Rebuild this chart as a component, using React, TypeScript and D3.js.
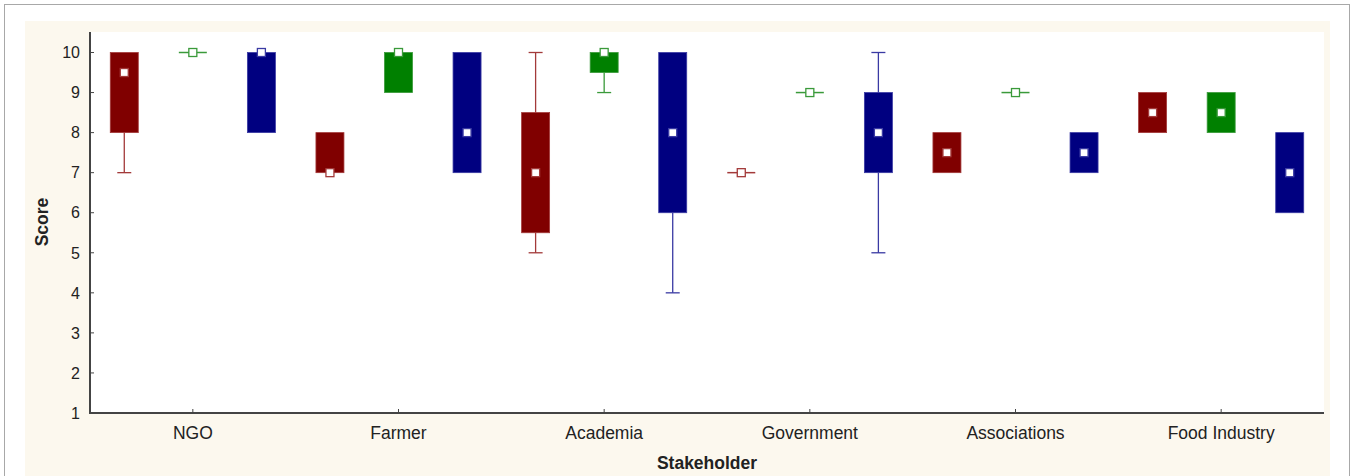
import * as d3 from "d3";

const categories = ["NGO", "Farmer", "Academia", "Government", "Associations", "Food Industry"];
const yTicks = [1, 2, 3, 4, 5, 6, 7, 8, 9, 10];

const redMedian = [9.5, 7, 7, 7, 7.5, 8.5];
const redQ1 = [8, 7, 5.5, 7, 7, 8];
const redQ3 = [10, 8, 8.5, 7, 8, 9];
const redMin = [7, 7, 5, 7, 7, 8];
const redMax = [10, 8, 10, 7, 8, 9];

const greenMedian = [10, 10, 10, 9, 9, 8.5];
const greenQ1 = [10, 9, 9.5, 9, 9, 8];
const greenQ3 = [10, 10, 10, 9, 9, 9];
const greenMin = [10, 9, 9, 9, 9, 8];
const greenMax = [10, 10, 10, 9, 9, 9];

const blueMedian = [10, 8, 8, 8, 7.5, 7];
const blueQ1 = [8, 7, 6, 7, 7, 6];
const blueQ3 = [10, 10, 10, 9, 8, 8];
const blueMin = [8, 7, 4, 5, 7, 6];
const blueMax = [10, 10, 10, 10, 8, 8];

const seriesList = [
  { key: "red", fill: "#800000", line: "#a33a3a", median: redMedian, q1: redQ1, q3: redQ3, min: redMin, max: redMax },
  { key: "green", fill: "#008000", line: "#3a9a3a", median: greenMedian, q1: greenQ1, q3: greenQ3, min: greenMin, max: greenMax },
  { key: "blue", fill: "#000080", line: "#3a3aa3", median: blueMedian, q1: blueQ1, q3: blueQ3, min: blueMin, max: blueMax },
];

const W = 1352;
const H = 476;
const PLOT = { left: 90, right: 1324, top: 32, bottom: 413 };
const BOX_W = 28;
const CAP_W = 14;
const MARK = 8;
const FONT = "'Liberation Sans', Arial, sans-serif";

export default function App() {
  const x = d3.scaleBand().domain(categories).range([PLOT.left, PLOT.right]);
  const sub = d3
    .scaleBand()
    .domain(seriesList.map((s) => s.key))
    .range([0, x.bandwidth()]);
  const y = d3.scaleLinear().domain([1, 10]).range([PLOT.bottom, 52.5]);

  return (
    <svg
      width={W}
      height={H}
      style={{ position: "absolute", left: 0, top: 0, fontFamily: FONT }}
    >
      <rect x={0} y={0} width={W} height={H} fill="#fff" />
      <rect x={4.5} y={4.5} width={1345} height={H} fill="#fff" stroke="#a8a8a8" />
      <rect x={25} y={21} width={1305} height={H} fill="#fcf8ee" />
      <rect x={PLOT.left} y={PLOT.top} width={PLOT.right - PLOT.left} height={PLOT.bottom - PLOT.top} fill="#fff" />

      {/* boxes */}
      {seriesList.map((s) =>
        categories.map((c, i) => {
          const cx = (x(c) ?? 0) + (sub(s.key) ?? 0) + sub.bandwidth() / 2;
          const top = y(s.q3[i]);
          const bot = y(s.q1[i]);
          const my = y(s.median[i]);
          return (
            <g key={s.key + c}>
              {s.max[i] > s.q3[i] && (
                <g stroke={s.line} strokeWidth={1.3}>
                  <line x1={cx} x2={cx} y1={y(s.max[i])} y2={top} />
                  <line x1={cx - CAP_W / 2} x2={cx + CAP_W / 2} y1={y(s.max[i])} y2={y(s.max[i])} />
                </g>
              )}
              {s.min[i] < s.q1[i] && (
                <g stroke={s.line} strokeWidth={1.3}>
                  <line x1={cx} x2={cx} y1={bot} y2={y(s.min[i])} />
                  <line x1={cx - CAP_W / 2} x2={cx + CAP_W / 2} y1={y(s.min[i])} y2={y(s.min[i])} />
                </g>
              )}
              {bot - top > 0 ? (
                <rect
                  x={cx - BOX_W / 2}
                  y={top}
                  width={BOX_W}
                  height={bot - top}
                  fill={s.fill}
                  stroke={s.line}
                  strokeWidth={0.8}
                />
              ) : (
                <line x1={cx - BOX_W / 2} x2={cx + BOX_W / 2} y1={top} y2={top} stroke={s.line} strokeWidth={1.5} />
              )}
              <rect
                x={cx - MARK / 2}
                y={my - MARK / 2}
                width={MARK}
                height={MARK}
                fill="#fff"
                stroke={s.line}
                strokeWidth={1.3}
              />
            </g>
          );
        })
      )}

      {/* axes */}
      <g stroke="#444" strokeWidth={2} fill="none">
        <line x1={PLOT.left} x2={PLOT.left} y1={PLOT.top} y2={PLOT.bottom + 1} />
        <line x1={PLOT.left - 1} x2={PLOT.right} y1={PLOT.bottom} y2={PLOT.bottom} />
      </g>
      {yTicks.map((t) => (
        <g key={t}>
          <line x1={PLOT.left} x2={PLOT.left + 4} y1={y(t)} y2={y(t)} stroke="#444" strokeWidth={1} />
          <text x={80} y={y(t)} dy="0.36em" textAnchor="end" fontSize={16} fill="#222">
            {t}
          </text>
        </g>
      ))}
      {categories.map((c) => {
        const cx = (x(c) ?? 0) + x.bandwidth() / 2;
        return (
          <g key={c}>
            <line x1={cx} x2={cx} y1={PLOT.bottom} y2={PLOT.bottom - 4} stroke="#444" strokeWidth={1} />
            <text x={cx} y={439} textAnchor="middle" fontSize={17.5} fill="#222">
              {c}
            </text>
          </g>
        );
      })}

      <text
        transform={`translate(48,222) rotate(-90)`}
        textAnchor="middle"
        fontSize={17.5}
        fontWeight="bold"
        fill="#222"
      >
        Score
      </text>
      <text x={(PLOT.left + PLOT.right) / 2} y={469} textAnchor="middle" fontSize={17.5} fontWeight="bold" fill="#222">
        Stakeholder
      </text>
    </svg>
  );
}
